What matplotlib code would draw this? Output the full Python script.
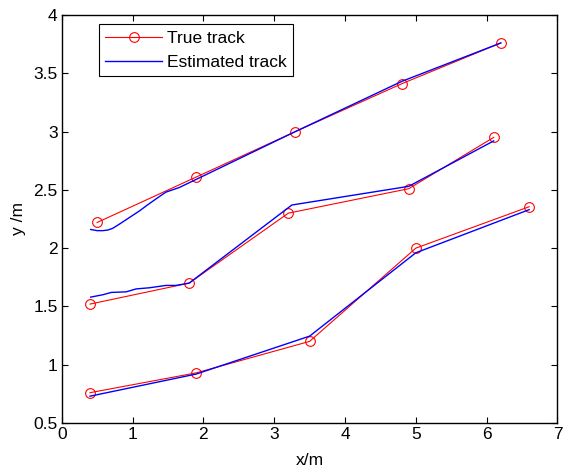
import matplotlib
matplotlib.use("Agg")
import matplotlib.pyplot as plt

# true tracks (red, circles)
true_x1 = [0.5, 1.9, 3.3, 4.8, 6.2]
true_y1 = [2.22, 2.61, 3.0, 3.41, 3.76]
true_x2 = [0.4, 1.8, 3.2, 4.9, 6.1]
true_y2 = [1.52, 1.70, 2.30, 2.51, 2.95]
true_x3 = [0.4, 1.9, 3.5, 5.0, 6.6]
true_y3 = [0.76, 0.93, 1.20, 2.00, 2.355]

# estimated tracks (blue)
est_x1 = [0.41, 0.5, 0.58, 0.65, 0.72, 0.8, 0.9, 1.0, 1.1, 1.21, 1.35, 1.47, 1.66, 1.9, 3.3, 4.8, 6.2]
est_y1 = [2.16, 2.15, 2.15, 2.155, 2.17, 2.2, 2.24, 2.28, 2.32, 2.37, 2.43, 2.48, 2.52, 2.59, 3.0, 3.43, 3.76]
est_x2 = [0.41, 0.58, 0.7, 0.91, 1.05, 1.24, 1.47, 1.61, 1.8, 3.25, 4.9, 6.1]
est_y2 = [1.58, 1.60, 1.62, 1.625, 1.65, 1.66, 1.68, 1.68, 1.70, 2.37, 2.53, 2.92]
est_x3 = [0.4, 1.9, 3.5, 5.0, 6.6]
est_y3 = [0.73, 0.92, 1.245, 1.96, 2.33]

plt.rcParams["font.family"] = ["Liberation Sans", "DejaVu Sans"]
plt.rcParams["font.size"] = 12.5

fig = plt.figure(figsize=(5.64, 4.74), dpi=100)
ax = fig.add_axes([0.1094, 0.1076, 0.879, 0.8608])

red_kw = dict(color="#FF0000", linewidth=0.8, marker="o", markersize=7,
              markerfacecolor="none", markeredgecolor="#FF0000", markeredgewidth=0.8)
blue_kw = dict(color="#0000FF", linewidth=1.0)

ax.plot(true_x1, true_y1, label="True track", **red_kw)
ax.plot(est_x1, est_y1, label="Estimated track", **blue_kw)
ax.plot(true_x2, true_y2, **red_kw)
ax.plot(est_x2, est_y2, **blue_kw)
ax.plot(true_x3, true_y3, **red_kw)
ax.plot(est_x3, est_y3, **blue_kw)

ax.set_xlim(0, 7)
ax.set_ylim(0.5, 4)
ax.set_xticks([0, 1, 2, 3, 4, 5, 6, 7])
ax.set_yticks([0.5, 1, 1.5, 2, 2.5, 3, 3.5, 4])
ax.set_yticklabels(["0.5", "1", "1.5", "2", "2.5", "3", "3.5", "4"])
ax.tick_params(direction="in", top=True, right=True, length=4, width=0.8, pad=3)
for s in ax.spines.values():
    s.set_linewidth(1.0)

ax.set_xlabel("x/m", labelpad=8)
ax.set_ylabel("y /m", labelpad=5)

leg = ax.legend(loc="upper left", bbox_to_anchor=(0.075, 0.977), borderaxespad=0,
                fancybox=False, edgecolor="black", framealpha=1, handlelength=3.3,
                handletextpad=0.3, borderpad=0.35, labelspacing=0.55, fontsize=12.5)
leg.get_frame().set_linewidth(0.8)

fig.savefig("out.png", dpi=100)
